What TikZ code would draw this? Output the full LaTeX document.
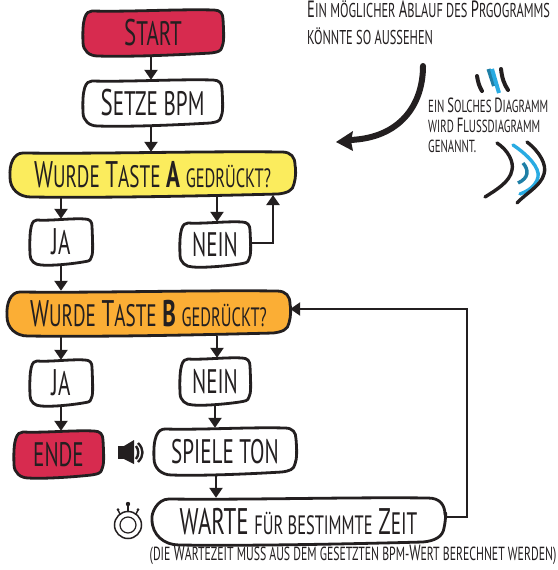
\documentclass[tikz,border=0pt]{standalone}
\usepackage{fontspec}
\setmainfont[FakeStretch=0.62]{PT Sans}
\usetikzlibrary{arrows.meta,calc}
\definecolor{inkc}{HTML}{231F20}
\definecolor{redc}{HTML}{D72B4F}
\definecolor{yelc}{HTML}{FBEC5D}
\definecolor{orac}{HTML}{FBAE35}
\definecolor{bluec}{HTML}{29ABE2}
\definecolor{tealc}{HTML}{1F7FA6}
\tikzset{
  label/.style={inner sep=0pt,text=inkc,font=\fontsize{34}{36}\selectfont},
  note/.style={inner sep=0pt,text=inkc,align=left},
  flow/.style={draw=inkc,line width=2.3pt,-{Triangle[length=10pt,width=13pt]}},
  outline/.style={draw=inkc,line width=2.8pt,line join=round}
}
% hand-drawn box: x1 y1 x2 y2 fill name text radius
\newcommand{\handbox}[8]{%
  \pgfmathsetmacro{\xa}{(2*#1+#3)/3}%
  \pgfmathsetmacro{\xb}{(#1+2*#3)/3}%
  \draw[outline,fill=#5]
    (#1+#8,#2+1) .. controls (\xa,#2+2) and (\xb,#2-1) .. (#3-#8,#2)
    .. controls (#3-0.3*#8,#2) and (#3,#2+0.4*#8) .. (#3,#2+#8)
    .. controls (#3+1,#4-2.2*#8) and (#3+1,#4-1.5*#8) .. (#3-1,#4-#8)
    .. controls (#3-2,#4-0.5*#8) and (#3-0.6*#8,#4-4) .. (#3-1.3*#8,#4-3)
    .. controls (\xb,#4-1) and (\xa,#4+1) .. (#1+1.6*#8,#4)
    .. controls (#1+0.7*#8,#4) and (#1,#4-0.6*#8) .. (#1,#4-1.5*#8)
    .. controls (#1-1,#2+0.9*#8) and (#1+0.3*#8,#2+1) .. (#1+#8,#2+1) -- cycle;
  \node[label,minimum width={(#3-#1)*1pt},minimum height={(#4-#2)*1pt}] (#6) at ({(#1+#3)/2},{(#2+#4)/2}) {#7};
}
\newcommand{\szup}[1]{{\fontsize{37}{37}\selectfont #1}}
\newcommand{\szmd}[1]{{\fontsize{31}{33}\selectfont #1}}
\newcommand{\szlo}[1]{{\fontsize{26.5}{28}\selectfont #1}}
\newcommand{\nsA}[1]{{\fontsize{23.5}{28}\selectfont #1}}
\newcommand{\nsB}[1]{{\fontsize{20.5}{22}\selectfont #1}}
\newcommand{\nsC}[1]{{\fontsize{22}{22}\selectfont #1}}
\begin{document}
\begin{tikzpicture}[x=1pt,y=-1pt]
\useasboundingbox (0,0) rectangle (557,570);

\handbox{83}{10}{223}{56}{redc}{start}{\szup{S}TART}{9}
\handbox{83}{80}{222}{126}{white}{bpm}{\szup{S}ETZE BPM}{9}
\handbox{10}{152}{295}{197}{yelc}{qa}{\szup{W}\szmd{URDE} \szup{T}\szmd{ASTE} \textbf{\szup{A}} \szlo{GEDRÜCKT?}}{13}
\handbox{30}{219}{92}{265}{white}{jaa}{\szup{J}A}{7}
\handbox{180}{222}{250}{267}{white}{neina}{NEIN}{8}
\handbox{7}{291}{290}{336}{orac}{qb}{\szup{W}\szmd{URDE} \szup{T}\szmd{ASTE} \textbf{\szup{B}} \szlo{GEDRÜCKT?}}{13}
\handbox{30}{360}{92}{406}{white}{jab}{\szup{J}A}{7}
\handbox{180}{358}{250}{405}{white}{neinb}{NEIN}{8}
\handbox{14}{431}{103}{478}{redc}{ende}{ENDE}{9}
\handbox{154}{428}{296}{475}{white}{ton}{SPIELE TON}{11}
\handbox{152}{498}{445}{545}{white}{warte}{\szup{WARTE} \szlo{FÜR BESTIMMTE} \szup{Z}\szmd{EIT}}{17}

\draw[flow] (start.south -| 151,0) -- (bpm.north -| 151,0);
\draw[flow] (bpm.south -| 151,0) -- (qa.north -| 151,0);
\draw[flow] (qa.south -| jaa.north) -- (jaa.north);
\draw[flow] (qa.south -| 217,0) -- (neina.north -| 217,0);
\draw[flow] (jaa.south) -- (jaa.south |- qb.north);
\draw[flow] (qb.south -| jab.north) -- (jab.north);
\draw[flow] (qb.south -| 217,0) -- (neinb.north -| 217,0);
\draw[flow] (jab.south) -- (jab.south |- ende.north);
\draw[flow] (neinb.south -| 215,0) -- (ton.north -| 215,0);
\draw[flow] (ton.south -| 216,0) -- (warte.north -| 216,0);
\draw[flow] (neina.east |- 0,243) -- (273,243) -- (273,195);
\draw[flow] (warte.east |- 0,517) -- (467,517) -- (467,309) -- (qb.east |- 0,309);

\node[note,anchor=north west,font=\fontsize{20}{27}\selectfont] (intro) at (307,0) {\nsA{E}IN MÖGLICHER \nsA{A}BLAUF DES \nsA{P}RGOGRAMMS\\KÖNNTE SO AUSSEHEN};
\node[note,anchor=north west,font=\fontsize{17.5}{20}\selectfont] (side) at (428,98) {EIN \nsB{S}OLCHES \nsB{D}IAGRAMM\\WIRD \nsB{F}LUSSDIAGRAMM\\GENANNT.};
\node[note,anchor=north,font=\fontsize{19}{22}\selectfont] (foot) at (353,545) {(DIE \nsC{W}ARTEZEIT MUSS AUS DEM GESETZTEN BPM-\nsC{W}ERT BERECHNET WERDEN)};

% big curved arrow
\draw[inkc,line width=6pt,line cap=round] (423,66) .. controls (423,105) and (400,138) .. (350,140);
\fill[inkc] (336,142) -- (353,131) -- (351,141) -- (353,151) -- cycle;

% decorative strokes around the side note
\draw[inkc,line width=4pt,line cap=round] (477,76) .. controls (478,82) and (479,86) .. (482,91);
\draw[tealc,line width=4pt] (488.5,69) -- (494,86);
\draw[bluec,line width=4pt] (492,69) -- (499,93);
\draw[inkc,line width=4pt,line cap=round] (501,69) .. controls (502,78) and (504,84) .. (508,90);
\draw[inkc,line width=3.4pt,line cap=round] (497,143) .. controls (508,150) and (514,162) .. (512,170) .. controls (510,182) and (496,190) .. (485,197);
\draw[bluec,line width=3.4pt,line cap=round] (513,145) .. controls (528,155) and (540,168) .. (538,177) .. controls (536,186) and (528,191) .. (520,194);
\draw[inkc,line width=3.4pt,line cap=round] (527,142) .. controls (540,152) and (547,165) .. (544,174) .. controls (541,186) and (525,194) .. (517,203);
\draw[tealc,line width=3.4pt] (523,163) .. controls (529,170) and (529,178) .. (518,183);

% loudspeaker
\fill[inkc] (118,446) rectangle (125,459);
\fill[inkc] (124,446) -- (134,440) -- (134,464) -- (124,459) -- cycle;
\draw[inkc,line width=2.4pt] (136,446) .. controls (139,450) and (139,455) .. (136,459);
\draw[inkc,line width=2.4pt] (138,443) .. controls (144,449) and (144,456) .. (138,462);

% stopwatch
\draw[inkc,line width=1.5pt] (128,525) circle (13.5);
\draw[inkc,line width=1.2pt] (128,525) circle (8);
\draw[inkc,line width=1.4pt] (128,511) -- (128,505);
\fill[inkc] (128,504) circle (2.2);
\draw[inkc,line width=1.4pt] (120,514) -- (118,510);
\fill[inkc] (118,509.5) circle (1.5);
\draw[inkc,line width=1.4pt] (136,514) -- (138,510);
\fill[inkc] (138,509.5) circle (1.5);
\end{tikzpicture}
\end{document}
